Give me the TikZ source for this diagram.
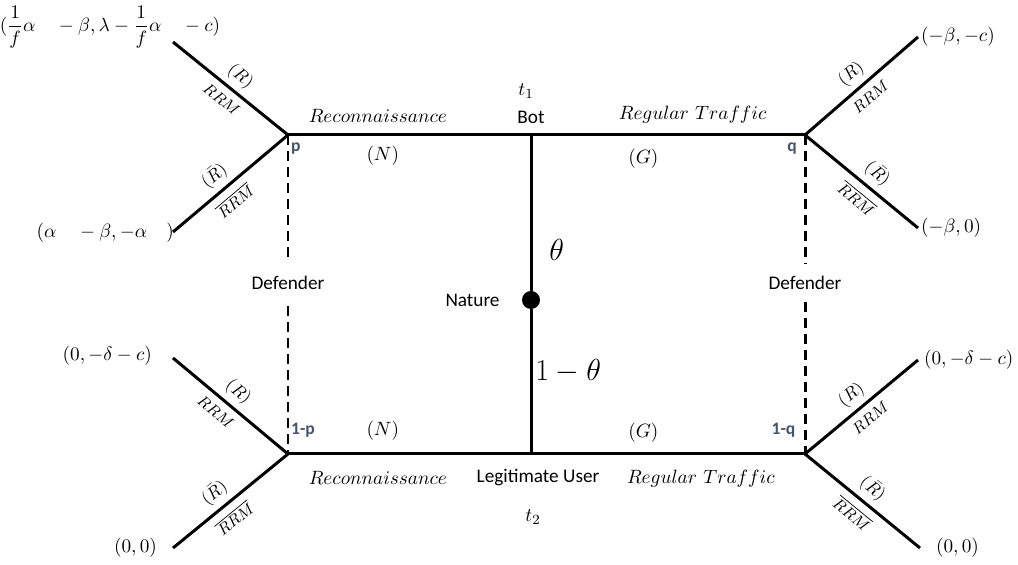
\documentclass[tikz,border=0pt,11pt]{standalone}
\usepackage{fontspec}
\newfontfamily\calibri{Carlito}
\usetikzlibrary{positioning}
\definecolor{probblue}{HTML}{44546A}

\begin{document}
\begin{tikzpicture}[
        tree/.style={line width=1.7pt},
        info/.style={line width=1.7pt, dash pattern=on 5.7pt off 3.4pt},
        player/.style={font=\calibri, inner sep=1pt},
        prob/.style={font=\calibri\small\bfseries, text=probblue, inner sep=1pt},
        payoff/.style={inner sep=1pt},
        choice/.style={inner sep=1pt},
        act/.style={font=\small, sloped, inner sep=1pt},
        rrm/.style={font=\footnotesize, sloped, inner sep=1pt},
    ]
    \useasboundingbox (0, 0) rectangle (20.36, 11.30);

    % information sets and nature
    \coordinate (p) at (5.76, 8.60);
    \coordinate (q) at (16.10, 8.60);
    \coordinate (pp) at (5.76, 2.22);
    \coordinate (qq) at (16.10, 2.22);
    \coordinate (bot) at (10.62, 8.60);
    \coordinate (user) at (10.62, 2.22);
    \node (nature) at (10.62, 5.30) [circle, fill, inner sep=0pt, minimum size=0.36cm] {};

    % ends of the tree
    \coordinate (tl1) at (3.46, 10.46);
    \coordinate (tl2) at (3.46, 6.66);
    \coordinate (bl1) at (3.46, 4.14);
    \coordinate (bl2) at (3.46, 0.34);
    \coordinate (tr1) at (18.36, 10.56);
    \coordinate (tr2) at (18.36, 6.74);
    \coordinate (br1) at (18.36, 4.10);
    \coordinate (br2) at (18.40, 0.34);

    % players
    \node (botlbl) [player, above=0.18cm of bot] {Bot};
    \node (t1) [above=0.08cm of botlbl, xshift=-0.1cm] {$t_1$};
    \node (userlbl) [player, below=0.26cm of user, xshift=0.14cm] {Legitimate User};
    \node (t2) [below=0.3cm of userlbl, xshift=-0.1cm] {$t_2$};
    \node (naturelbl) [player, left=0.4cm of nature] {Nature};
    \node (defl) at (5.76, 5.64) [player, inner ysep=0.32cm] {Defender};
    \node (defr) at (16.10, 5.64) [player, inner ysep=0.24cm] {Defender};

    % beliefs
    \node (pl) [prob, below right=0.12cm and 0.02cm of p] {p};
    \node (ql) [prob, below left=0.12cm and 0.12cm of q] {q};
    \node (ppl) [prob, above right=0.3cm and 0.02cm of pp] {1-p};
    \node (qql) [prob, above left=0.3cm and 0.15cm of qq] {1-q};

    % nature's move
    \draw [tree] (bot) -- node [pos=0.74, right=0.3cm, font=\LARGE, inner sep=1pt] {$\theta$} (nature);
    \draw [tree] (nature) -- node [pos=0.43, right=0.02cm, font=\LARGE, inner sep=1pt] {$1-\theta$} (user);

    % attacker moves
    \draw [tree] (p) -- node [choice, above=0.19cm, pos=0.37] {$Reconnaissance$}
                        node [choice, below=0.15cm, pos=0.39] {$(N)$} (bot)
                 -- node [choice, above=0.17cm, pos=0.59] {$Regular\ Traffic$}
                    node [choice, below=0.21cm, pos=0.41] {$(G)$} (q);
    \draw [tree] (pp) -- node [choice, below=0.29cm, pos=0.37] {$Reconnaissance$}
                         node [choice, above=0.21cm, pos=0.39] {$(N)$} (user)
                 -- node [choice, below=0.25cm, pos=0.62] {$Regular\ Traffic$}
                    node [choice, above=0.17cm, pos=0.41] {$(G)$} (qq);

    % defender
    \draw [info] (p) -- (defl);
    \draw [info] (defl) -- (pp);
    \draw [info] (q) -- (defr);
    \draw [info] (defr) -- (qq);

    \draw [tree] (tl1) -- node [act, above=2pt] {$(R)$} node [rrm, below=3pt] {$RRM$} (p);
    \draw [tree] (tl2) -- node [act, above=2pt, pos=0.45] {$(\bar{R})$} node [rrm, below=3pt, pos=0.45] {$\overline{RRM}$} (p);
    \draw [tree] (bl1) -- node [act, above=2pt, pos=0.48] {$(R)$} node [rrm, below=3pt, pos=0.45] {$RRM$} (pp);
    \draw [tree] (bl2) -- node [act, above=2pt, pos=0.45] {$(\bar{R})$} node [rrm, below=3pt, pos=0.45] {$\overline{RRM}$} (pp);
    \draw [tree] (q) -- node [act, above=2pt] {$(R)$} node [rrm, below=3pt] {$RRM$} (tr1);
    \draw [tree] (q) -- node [act, above=2pt, pos=0.55] {$(\bar{R})$} node [rrm, below=3pt, pos=0.55] {$\overline{RRM}$} (tr2);
    \draw [tree] (qq) -- node [act, above=2pt] {$(R)$} node [rrm, below=3pt] {$RRM$} (br1);
    \draw [tree] (qq) -- node [act, above=2pt] {$(\bar{R})$} node [rrm, below=3pt] {$\overline{RRM}$} (br2);

    % payoffs
    \node (po1) at (2.20, 10.76) [payoff] {$({\displaystyle\frac{1}{f}}\alpha\quad-\beta,\lambda-{\displaystyle\frac{1}{f}}\alpha\quad-c)$};
    \node (po2) at (3.52, 6.64) [payoff, anchor=east] {$(\alpha\quad-\beta,-\alpha\quad)$};
    \node (po3) at (3.08, 4.18) [payoff, anchor=east] {$(0,-\delta-c)$};
    \node (po4) at (3.18, 0.34) [payoff, anchor=east] {$(0,0)$};
    \node (po5) at (18.38, 10.56) [payoff, anchor=west] {$(-\beta,-c)$};
    \node (po6) at (18.38, 6.74) [payoff, anchor=west] {$(-\beta,0)$};
    \node (po7) at (18.44, 4.10) [payoff, anchor=west] {$(0,-\delta-c)$};
    \node (po8) at (18.68, 0.34) [payoff, anchor=west] {$(0,0)$};
\end{tikzpicture}
\end{document}
